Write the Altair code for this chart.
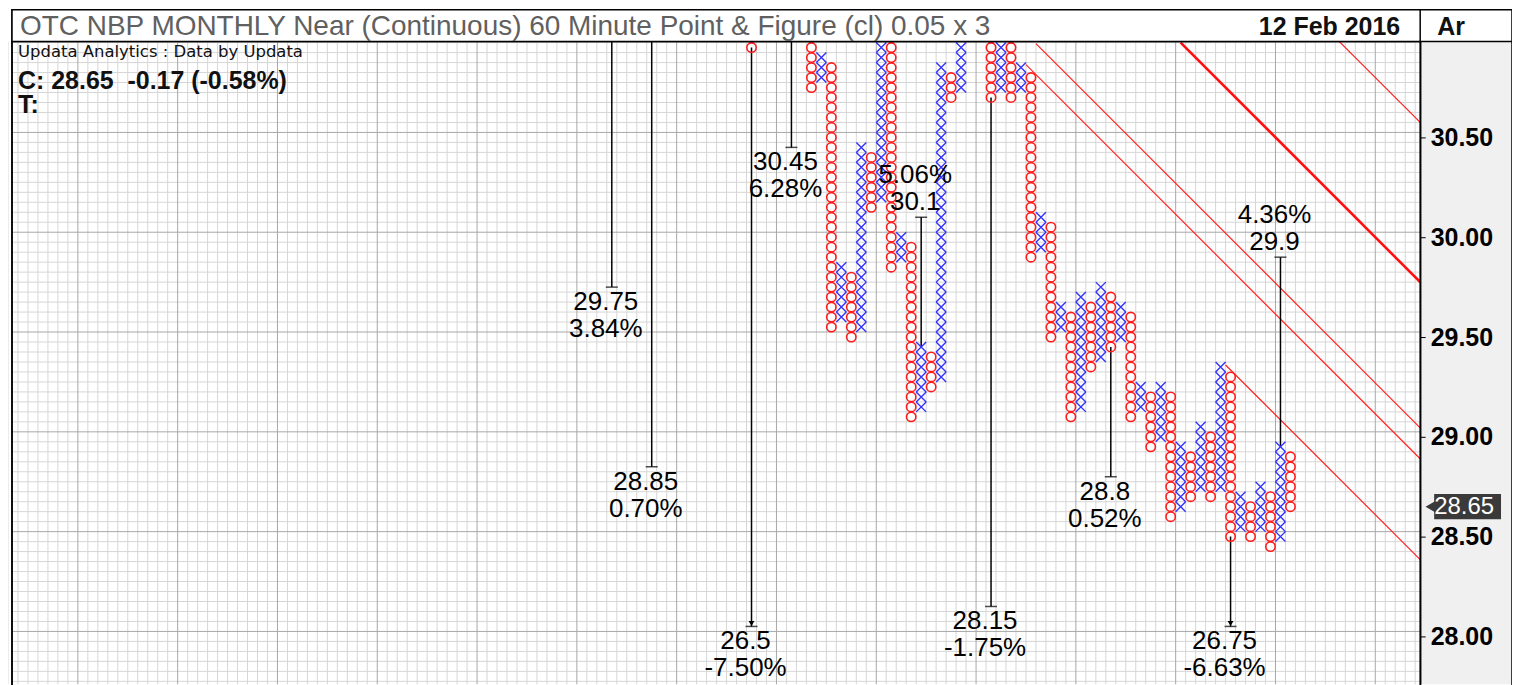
import altair as alt
import numpy as np
import pandas as pd

# ---------------- data ----------------
# Point & Figure columns (box size 0.05, 3-box reversal)
col_index = [75, 81, 82, 83, 84, 85, 86, 87, 88, 89, 90, 91, 92, 93, 94, 95, 96,
             99, 100, 101, 102, 103, 104, 105, 106, 107, 108, 109, 110, 111, 112,
             113, 114, 115, 116, 117, 118, 119, 120, 121, 122, 123, 124, 125, 126,
             127, 128, 129]
col_kind = ["O", "O", "X", "O", "X", "O", "X", "O", "X", "O", "X", "O", "X", "O", "X", "O", "X",
            "O", "X", "O", "X", "O", "X", "O", "X", "O", "X", "O", "X", "O", "X",
            "O", "X", "O", "X", "O", "X", "O", "X", "O", "X", "O", "X", "O", "X",
            "O", "X", "O"]
col_low = [30.95, 30.75, 30.80, 29.55, 29.60, 29.50, 29.55, 30.15, 30.20, 29.85, 29.90, 29.10, 29.15, 29.25, 29.30, 30.70, 30.75,
           30.70, 30.75, 30.70, 30.75, 29.90, 29.95, 29.50, 29.55, 29.10, 29.15, 29.35, 29.40, 29.45, 29.50,
           29.10, 29.15, 28.95, 29.00, 28.60, 28.65, 28.70, 28.75, 28.70, 28.75, 28.50, 28.55, 28.50, 28.55,
           28.45, 28.50, 28.65]
col_high = [31.10, 31.10, 30.90, 30.85, 29.85, 29.80, 30.45, 30.40, 31.10, 31.10, 30.00, 29.95, 29.45, 29.40, 30.85, 30.80, 31.10,
            31.10, 31.10, 31.10, 30.85, 30.80, 30.10, 30.05, 29.65, 29.60, 29.70, 29.65, 29.75, 29.70, 29.65,
            29.60, 29.25, 29.20, 29.25, 29.20, 28.95, 28.90, 29.05, 29.00, 29.35, 29.30, 28.70, 28.65, 28.75,
            28.70, 28.95, 28.90]

# price targets (vertical count lines)
tgt_col = [61, 65, 75, 79, 92, 99, 111, 123, 128]
tgt_from = [31.10, 31.10, 30.95, 31.10, 29.45, 30.70, 29.45, 28.50, 28.95]
tgt_value = [29.75, 28.85, 26.5, 30.45, 30.1, 28.15, 28.8, 26.75, 29.9]
tgt_label = ["29.75", "28.85", "26.5", "30.45", "30.1", "28.15", "28.8", "26.75", "29.9"]
tgt_pct = ["3.84%", "0.70%", "-7.50%", "6.28%", "5.06%", "-1.75%", "0.52%", "-6.63%", "4.36%"]

# 45-degree trend lines: start (column, price) -> end (column, price)
tl_x1 = [103.5, 102.5, 122.5, 118.0, 133.7]
tl_y1 = [30.97, 30.865, 29.36, 30.975, 30.99]
tl_x2 = [142.0, 142.0, 142.0, 142.0, 142.0]
tl_y2 = [29.045, 28.89, 28.385, 29.775, 30.575]
tl_w = [1.2, 1.2, 1.2, 2.6, 1.2]

axis_ticks = [28.0, 28.5, 29.0, 29.5, 30.0, 30.5]
last_price = 28.65

title_text = "OTC NBP MONTHLY Near (Continuous) 60 Minute Point & Figure (cl) 0.05 x 3"
date_text = "12 Feb 2016"
info1 = "Updata Analytics : Data by Updata"
info2 = "C: 28.65 \u00a0-0.17 (-0.58%)"
info3 = "T:"

# ---------------- layout ----------------
PW, PH = 1411, 644
X0, X1 = 0.9, 142.0
Y0, Y1 = 27.76, 30.98
BOTTOM_CLAMP = 28.05
FONT = "Liberation Sans"

XS = alt.Scale(domain=[X0, X1], nice=False, zero=False)
YS = alt.Scale(domain=[Y0, Y1], nice=False, zero=False)
YAXIS = alt.Axis(orient="right", values=axis_ticks, format=".2f", labelFontSize=25,
                 labelFont=FONT, labelFontWeight="bold", labelColor="#000",
                 tickColor="#000", tickSize=5, domainColor="#000", domainWidth=1.5,
                 grid=False, labelPadding=5, title=None, zindex=1)


def X(f):
    return alt.X(f, type="quantitative", scale=XS, axis=None)


def Y(f):
    return alt.Y(f, type="quantitative", scale=YS, axis=YAXIS, title=None)


# boxes
rows = []
for n, k, lo, hi in zip(col_index, col_kind, col_low, col_high):
    m = int(round((hi - lo) / 0.05))
    for i in range(m + 1):
        rows.append({"col": n, "price": round(lo + 0.05 * i, 2), "kind": k})
boxes = pd.DataFrame(rows)

# grid
vg = pd.DataFrame({"gx": np.arange(0.5, 142.0, 1.0)})
vg["major"] = ((vg["gx"] - 7.5) % 10 == 0)
hg_vals = np.round(np.arange(27.75, 31.0, 0.05), 2) + 0.025
hg = pd.DataFrame({"gy": hg_vals})
frac = ((hg["gy"] - 0.025) * 2) % 1
hg["major"] = np.isclose(frac, 0) | np.isclose(frac, 1)

one = pd.DataFrame({"a": [0]})

bg_panel = alt.Chart(one).mark_rect(color="#f0f0f0").encode(
    x=alt.value(PW), x2=alt.value(PW + 92), y=alt.value(0), y2=alt.value(PH))

grid_minor_v = alt.Chart(vg).transform_filter("!datum.major").mark_rule(
    color="#d6d6d6", strokeWidth=1).encode(x=X("gx"))
grid_major_v = alt.Chart(vg).transform_filter("datum.major").mark_rule(
    color="#a8a8a8", strokeWidth=1).encode(x=X("gx"))
grid_minor_h = alt.Chart(hg).transform_filter("!datum.major").mark_rule(
    color="#d6d6d6", strokeWidth=1).encode(y=Y("gy"))
grid_major_h = alt.Chart(hg).transform_filter("datum.major").mark_rule(
    color="#a8a8a8", strokeWidth=1).encode(y=Y("gy"))

# targets
tg = pd.DataFrame({"col": tgt_col, "y1": tgt_from, "tv": tgt_value,
                   "lab": tgt_label, "pct": tgt_pct})
tg["yend"] = tg["tv"].clip(lower=BOTTOM_CLAMP)
tg["up"] = tg["tv"] > tg["y1"]
tg["out"] = tg["tv"] < BOTTOM_CLAMP

tline = alt.Chart(tg).mark_rule(color="#000", strokeWidth=1.5, clip=True).encode(
    x=X("col"), y=Y("y1"), y2="yend")
ttick = alt.Chart(tg).mark_tick(color="#000", orient="horizontal", size=12,
                                thickness=1.5).encode(x=X("col"), y=Y("yend"))
tarrow = alt.Chart(tg).transform_filter("datum.out").mark_point(
    shape="triangle-down", filled=True, color="#000", size=34, opacity=1, yOffset=-3).encode(
    x=X("col"), y=Y("yend"))

txt_common = dict(font=FONT, fontSize=26, color="#000", dx=-6, baseline="middle")
down_v = alt.Chart(tg).transform_filter("!datum.up").mark_text(dy=15, **txt_common).encode(
    x=X("col"), y=Y("yend"), text="lab")
down_p = alt.Chart(tg).transform_filter("!datum.up").mark_text(dy=42, **txt_common).encode(
    x=X("col"), y=Y("yend"), text="pct")
up_v = alt.Chart(tg).transform_filter("datum.up").mark_text(dy=-15, **txt_common).encode(
    x=X("col"), y=Y("yend"), text="lab")
up_p = alt.Chart(tg).transform_filter("datum.up").mark_text(dy=-42, **txt_common).encode(
    x=X("col"), y=Y("yend"), text="pct")

# trend lines
tl_rows = []
for i, (a, b, c, d, w) in enumerate(zip(tl_x1, tl_y1, tl_x2, tl_y2, tl_w)):
    tl_rows.append({"id": i, "x": a, "y": b, "w": w, "o": 0})
    tl_rows.append({"id": i, "x": c, "y": d, "w": w, "o": 1})
tl = pd.DataFrame(tl_rows)
tl_thin = alt.Chart(tl).transform_filter("datum.w < 2").mark_line(
    color="#ff2020", strokeWidth=1.2, clip=True).encode(
    x=X("x"), y=Y("y"), detail="id:N", order="o:Q")
tl_thick = alt.Chart(tl).transform_filter("datum.w >= 2").mark_line(
    color="#ff1010", strokeWidth=2.6, clip=True).encode(
    x=X("x"), y=Y("y"), detail="id:N", order="o:Q")

# boxes
o_marks = alt.Chart(boxes).transform_filter("datum.kind == 'O'").mark_point(
    shape="circle", filled=False, size=88, strokeWidth=1.6, color="#ff1a1a",
    opacity=1, clip=True).encode(x=X("col"), y=Y("price"))
x_marks = alt.Chart(boxes).transform_filter("datum.kind == 'X'").mark_point(
    shape="M-1,-1L1,1M-1,1L1,-1", filled=False, size=100, strokeWidth=1.4, color="#3333ff",
    opacity=1, clip=True).encode(x=X("col"), y=Y("price"))

# price marker
pm = pd.DataFrame({"p": [last_price], "t": [f"{last_price:.2f}"]})
pm_rect = alt.Chart(pm).transform_calculate(p1="datum.p + 0.063", p2="datum.p - 0.063").mark_rect(
    color="#3a3a3a").encode(x=alt.value(PW + 14), x2=alt.value(PW + 81), y=Y("p1"), y2="p2")
pm_tri = alt.Chart(pm).mark_point(shape="triangle-left", filled=True, color="#3a3a3a",
                                  size=170, opacity=1).encode(x=alt.value(PW + 11), y=Y("p"))
pm_text = alt.Chart(pm).mark_text(font=FONT, fontSize=24, color="white", align="left",
                                  baseline="middle").encode(
    x=alt.value(PW + 14), y=Y("p"), text="t")

# frame and title bar
frame_plot = alt.Chart(one).mark_rect(fill=None, stroke="#000", strokeWidth=1.5).encode(
    x=alt.value(0), x2=alt.value(PW), y=alt.value(0), y2=alt.value(PH + 4))
frame_outer = alt.Chart(one).mark_rect(fill=None, stroke="#000", strokeWidth=1.5).encode(
    x=alt.value(0), x2=alt.value(PW + 92), y=alt.value(-32), y2=alt.value(PH + 4))
title_bar = alt.Chart(one).mark_rect(fill="white", stroke="#000", strokeWidth=1.5).encode(
    x=alt.value(0), x2=alt.value(PW + 92), y=alt.value(-32), y2=alt.value(0))
title_div = alt.Chart(one).mark_rule(color="#000", strokeWidth=1.5).encode(
    x=alt.value(PW), y=alt.value(-32), y2=alt.value(0))
title_t = alt.Chart(pd.DataFrame({"t": [title_text]})).mark_text(
    font=FONT, fontSize=28, color="#606060", align="left", baseline="middle").encode(
    x=alt.value(8), y=alt.value(-15), text="t")
date_t = alt.Chart(pd.DataFrame({"t": [date_text]})).mark_text(
    font=FONT, fontSize=25, fontWeight="bold", color="#111", align="right",
    baseline="middle").encode(x=alt.value(PW - 20), y=alt.value(-15), text="t")
ar_t = alt.Chart(pd.DataFrame({"t": ["Ar"]})).mark_text(
    font=FONT, fontSize=25, fontWeight="bold", color="#111", align="left",
    baseline="middle").encode(x=alt.value(PW + 17), y=alt.value(-15), text="t")
info_a = alt.Chart(pd.DataFrame({"t": [info1]})).mark_text(
    font="DejaVu Sans", fontSize=16.5, color="#111", align="left", baseline="middle").encode(
    x=alt.value(6), y=alt.value(10), text="t")
info_b = alt.Chart(pd.DataFrame({"t": [info2]})).mark_text(
    font=FONT, fontSize=25, fontWeight="bold", color="#111", align="left",
    baseline="middle").encode(x=alt.value(6), y=alt.value(39), text="t")
info_c = alt.Chart(pd.DataFrame({"t": [info3]})).mark_text(
    font=FONT, fontSize=25, fontWeight="bold", color="#111", align="left",
    baseline="middle").encode(x=alt.value(6), y=alt.value(64), text="t")

chart = alt.layer(
    bg_panel, grid_minor_v, grid_minor_h, grid_major_v, grid_major_h,
    tl_thin, tl_thick, tline, ttick, tarrow,
    o_marks, x_marks,
    down_v, down_p, up_v, up_p,
    info_a, info_b, info_c,
    pm_rect, pm_tri, pm_text,
    frame_plot, frame_outer, title_bar, title_div, title_t, date_t, ar_t,
).properties(
    width=PW, height=PH,
    autosize=alt.AutoSizeParams(type="none"),
    padding={"left": 4, "top": 33, "right": 92, "bottom": 0},
    background="white",
).configure_view(stroke=None)

chart.save("out.html", embed_options={"renderer": "svg", "actions": False})
